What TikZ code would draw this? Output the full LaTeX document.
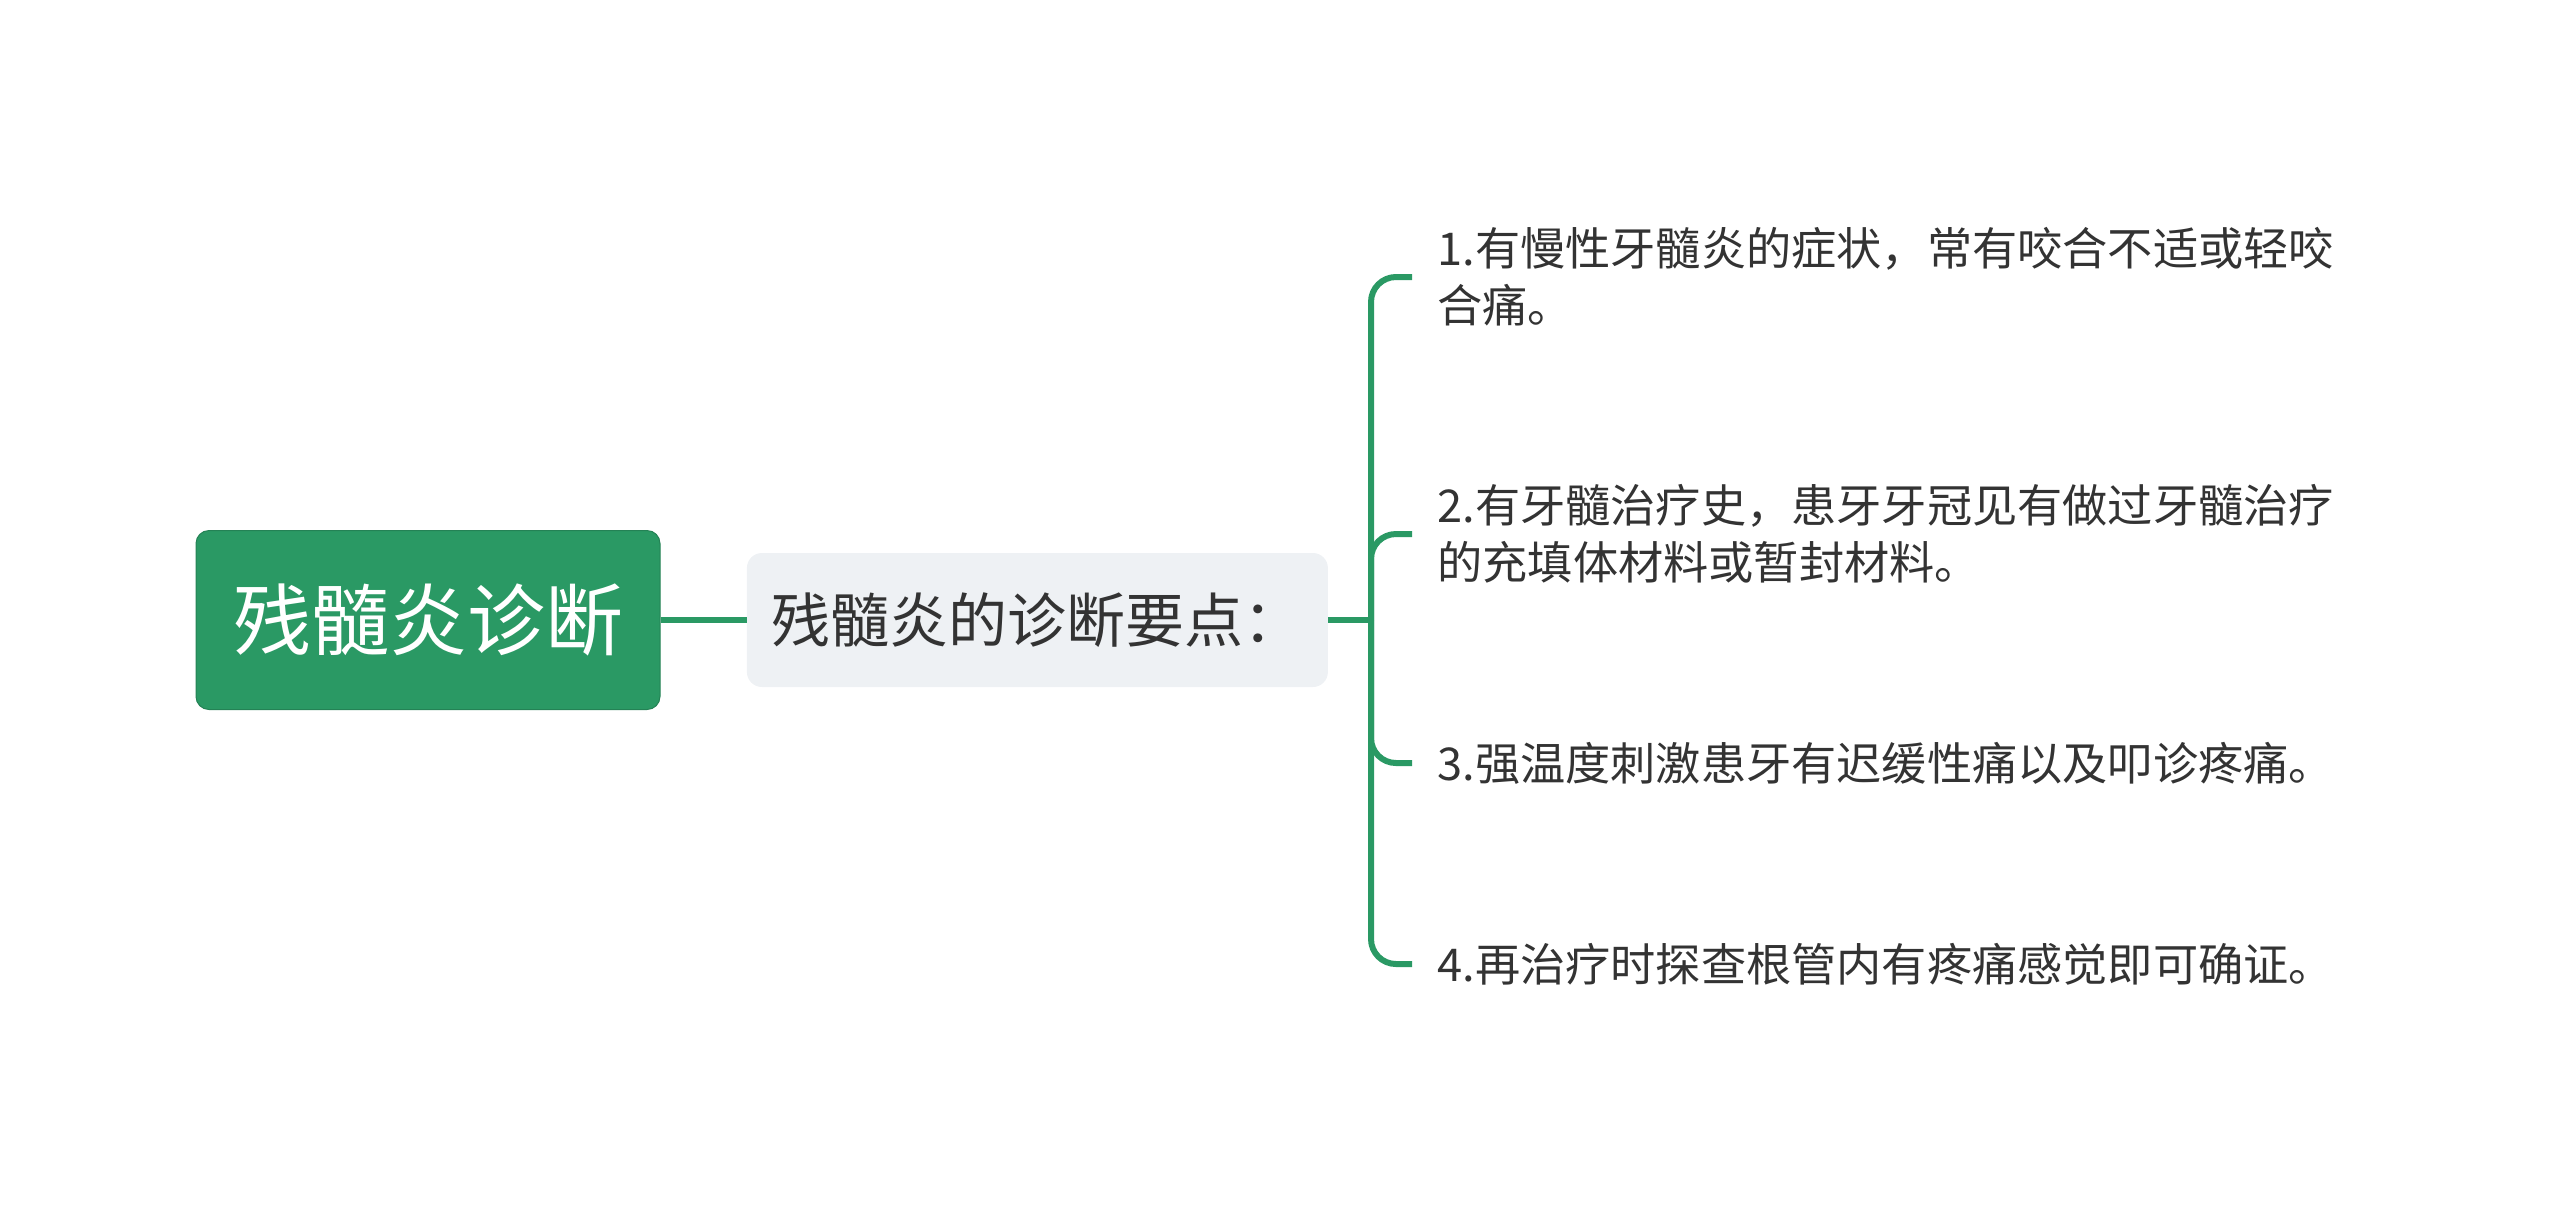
\documentclass[tikz,border=0pt]{standalone}
\usepackage{fontspec}
\newfontfamily\cjk{Noto Sans CJK SC}
\usepackage{tikz}
\usetikzlibrary{positioning}
\definecolor{mapgreen}{HTML}{2A9964}
\definecolor{boxgray}{HTML}{EEF1F4}
\definecolor{txtgray}{HTML}{333333}

\begin{document}
\begin{tikzpicture}[
  x=0.5pt, y=-0.5pt,
  font=\cjk,
  rootbox/.style={draw=mapgreen!85!black, line width=0.5pt, fill=mapgreen,
    rounded corners=6.5pt, minimum width=232pt, minimum height=89.5pt,
    text=white, font=\cjk\fontsize{39}{47}\selectfont},
  topicbox/.style={fill=boxgray, rounded corners=7.5pt, minimum width=290.5pt,
    minimum height=67pt, text=txtgray, font=\cjk\fontsize{29.5}{35}\selectfont},
  leaf/.style={anchor=west, inner xsep=12.5pt, inner ysep=0pt, align=left,
    text=txtgray, font=\cjk\fontsize{22.6}{28.5}\selectfont},
  link/.style={draw=mapgreen, line width=3pt},
  branch/.style={link, rounded corners=12.5pt},
]
  \useasboundingbox (0,0) rectangle (2560,1212);

  \node[rootbox] (root) at (428,620) {残髓炎诊断};
  \node[topicbox, right=43pt of root] (topic) {残髓炎的诊断要点：};
  \coordinate (hub) at (1371,620);

  \node[leaf] (p1) at (1412,277) {1.有慢性牙髓炎的症状，常有咬合不适或轻咬\\合痛。};
  \node[leaf] (p2) at (1412,534) {2.有牙髓治疗史，患牙牙冠见有做过牙髓治疗\\的充填体材料或暂封材料。};
  \node[leaf] (p3) at (1412,763) {3.强温度刺激患牙有迟缓性痛以及叩诊疼痛。};
  \node[leaf] (p4) at (1412,964) {4.再治疗时探查根管内有疼痛感觉即可确证。};

  \draw[link] (root) -- (topic);
  \draw[link] (topic) -- (hub);
  \foreach \p in {p1,p2,p3,p4}
    \draw[branch] (hub) |- (\p.west);
\end{tikzpicture}
\end{document}
